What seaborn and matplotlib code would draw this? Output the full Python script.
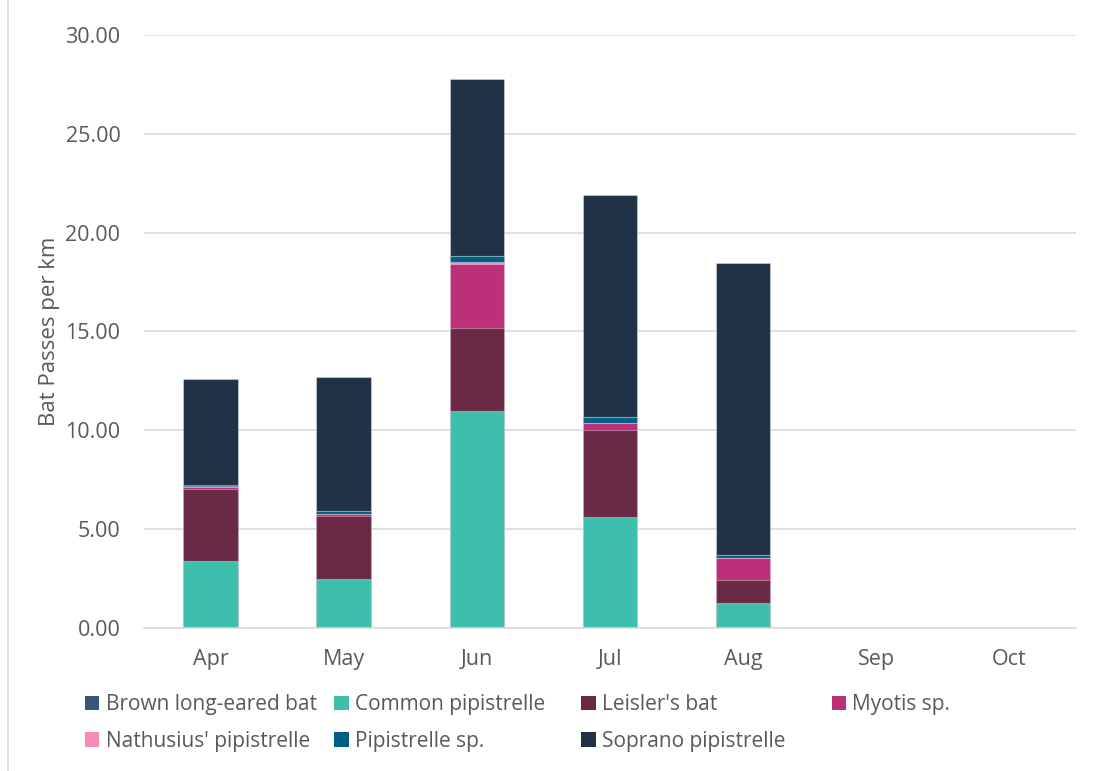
import matplotlib
matplotlib.use("Agg")
import matplotlib.pyplot as plt
from matplotlib.patches import Patch
from matplotlib.lines import Line2D
import seaborn as sns
import numpy as np
import pandas as pd

months = ["Apr", "May", "Jun", "Jul", "Aug", "Sep", "Oct"]

# Bat passes per km, by species and month (stacking order bottom -> top)
common_pipistrelle = [3.39, 2.48, 10.98, 5.61, 1.25, 0, 0]
leislers_bat = [3.64, 3.20, 4.18, 4.41, 1.16, 0, 0]
myotis_sp = [0.08, 0.08, 3.25, 0.37, 1.15, 0, 0]
nathusius_pipistrelle = [0.0, 0.0, 0.09, 0.0, 0.0, 0, 0]
pipistrelle_sp = [0.08, 0.15, 0.32, 0.30, 0.12, 0, 0]
brown_long_eared_bat = [0.03, 0.02, 0.0, 0.0, 0.0, 0, 0]
soprano_pipistrelle = [5.37, 6.75, 8.95, 11.21, 14.78, 0, 0]

stack = [
    ("Common pipistrelle", common_pipistrelle, "#3EBFAD"),
    ("Leisler's bat", leislers_bat, "#6A2A45"),
    ("Myotis sp.", myotis_sp, "#BC3079"),
    ("Nathusius' pipistrelle", nathusius_pipistrelle, "#F28DBA"),
    ("Pipistrelle sp.", pipistrelle_sp, "#005F85"),
    ("Brown long-eared bat", brown_long_eared_bat, "#3A5578"),
    ("Soprano pipistrelle", soprano_pipistrelle, "#223246"),
]

# legend columns, each holding two rows
legend_columns = [
    ["Brown long-eared bat", "Nathusius' pipistrelle"],
    ["Common pipistrelle", "Pipistrelle sp."],
    ["Leisler's bat", "Soprano pipistrelle"],
    ["Myotis sp."],
]

sns.set_style("white")
plt.rcParams["font.family"] = ["Open Sans", "DejaVu Sans"]

text_col = "#595959"
grid_col = "#D9D9D9"

fig = plt.figure(figsize=(11.08, 7.71), dpi=100)
ax = fig.add_axes([0.130, 0.1855, 0.841, 0.7691])

# cumulative heights, drawn from the tallest layer down so each layer sits on the one below
cum = np.cumsum(np.array([s[1] for s in stack]), axis=0)
for i in range(len(stack) - 1, -1, -1):
    df = pd.DataFrame({"month": months, "value": cum[i]})
    sns.barplot(data=df, x="month", y="value", order=months, color=stack[i][2],
                saturation=1, width=0.41, ax=ax,
                edgecolor=(1, 1, 1, 0.35), linewidth=0.8)

ax.set_xlim(-0.5, 6.5)
ax.set_ylim(0, 30)
ax.set_yticks(np.arange(0, 30.01, 5))
ax.set_yticklabels([f"{v:.2f}" for v in np.arange(0, 30.01, 5)])
ax.yaxis.grid(True, color=grid_col, linewidth=1.1)
ax.set_axisbelow(True)
for side in ["top", "right", "left"]:
    ax.spines[side].set_visible(False)
ax.spines["bottom"].set_color(grid_col)
ax.spines["bottom"].set_linewidth(1.1)
ax.tick_params(axis="both", length=0, labelsize=15.5, colors=text_col)
ax.tick_params(axis="y", pad=17)
ax.tick_params(axis="x", pad=15)
ax.set_xlabel("")
ax.set_ylabel("Bat Passes per km", fontsize=16, color=text_col, labelpad=4)

colors = {name: c for name, _, c in stack}
col_x = [0.0765, 0.3015, 0.5245, 0.7505]
for x0, names in zip(col_x, legend_columns):
    handles = [Patch(facecolor=colors[n], edgecolor="none") for n in names]
    leg = fig.legend(handles, names, loc="upper left", bbox_to_anchor=(x0, 0.0995),
                     ncol=1, frameon=False, fontsize=15, handlelength=0.7,
                     handleheight=0.7, handletextpad=0.3, labelspacing=0.75,
                     borderaxespad=0, borderpad=0)
    for t in leg.get_texts():
        t.set_color(text_col)

fig.add_artist(Line2D([0.0072, 0.0072], [0, 1], color=grid_col, linewidth=1.2,
                      transform=fig.transFigure))

fig.savefig("out.png", dpi=100)
